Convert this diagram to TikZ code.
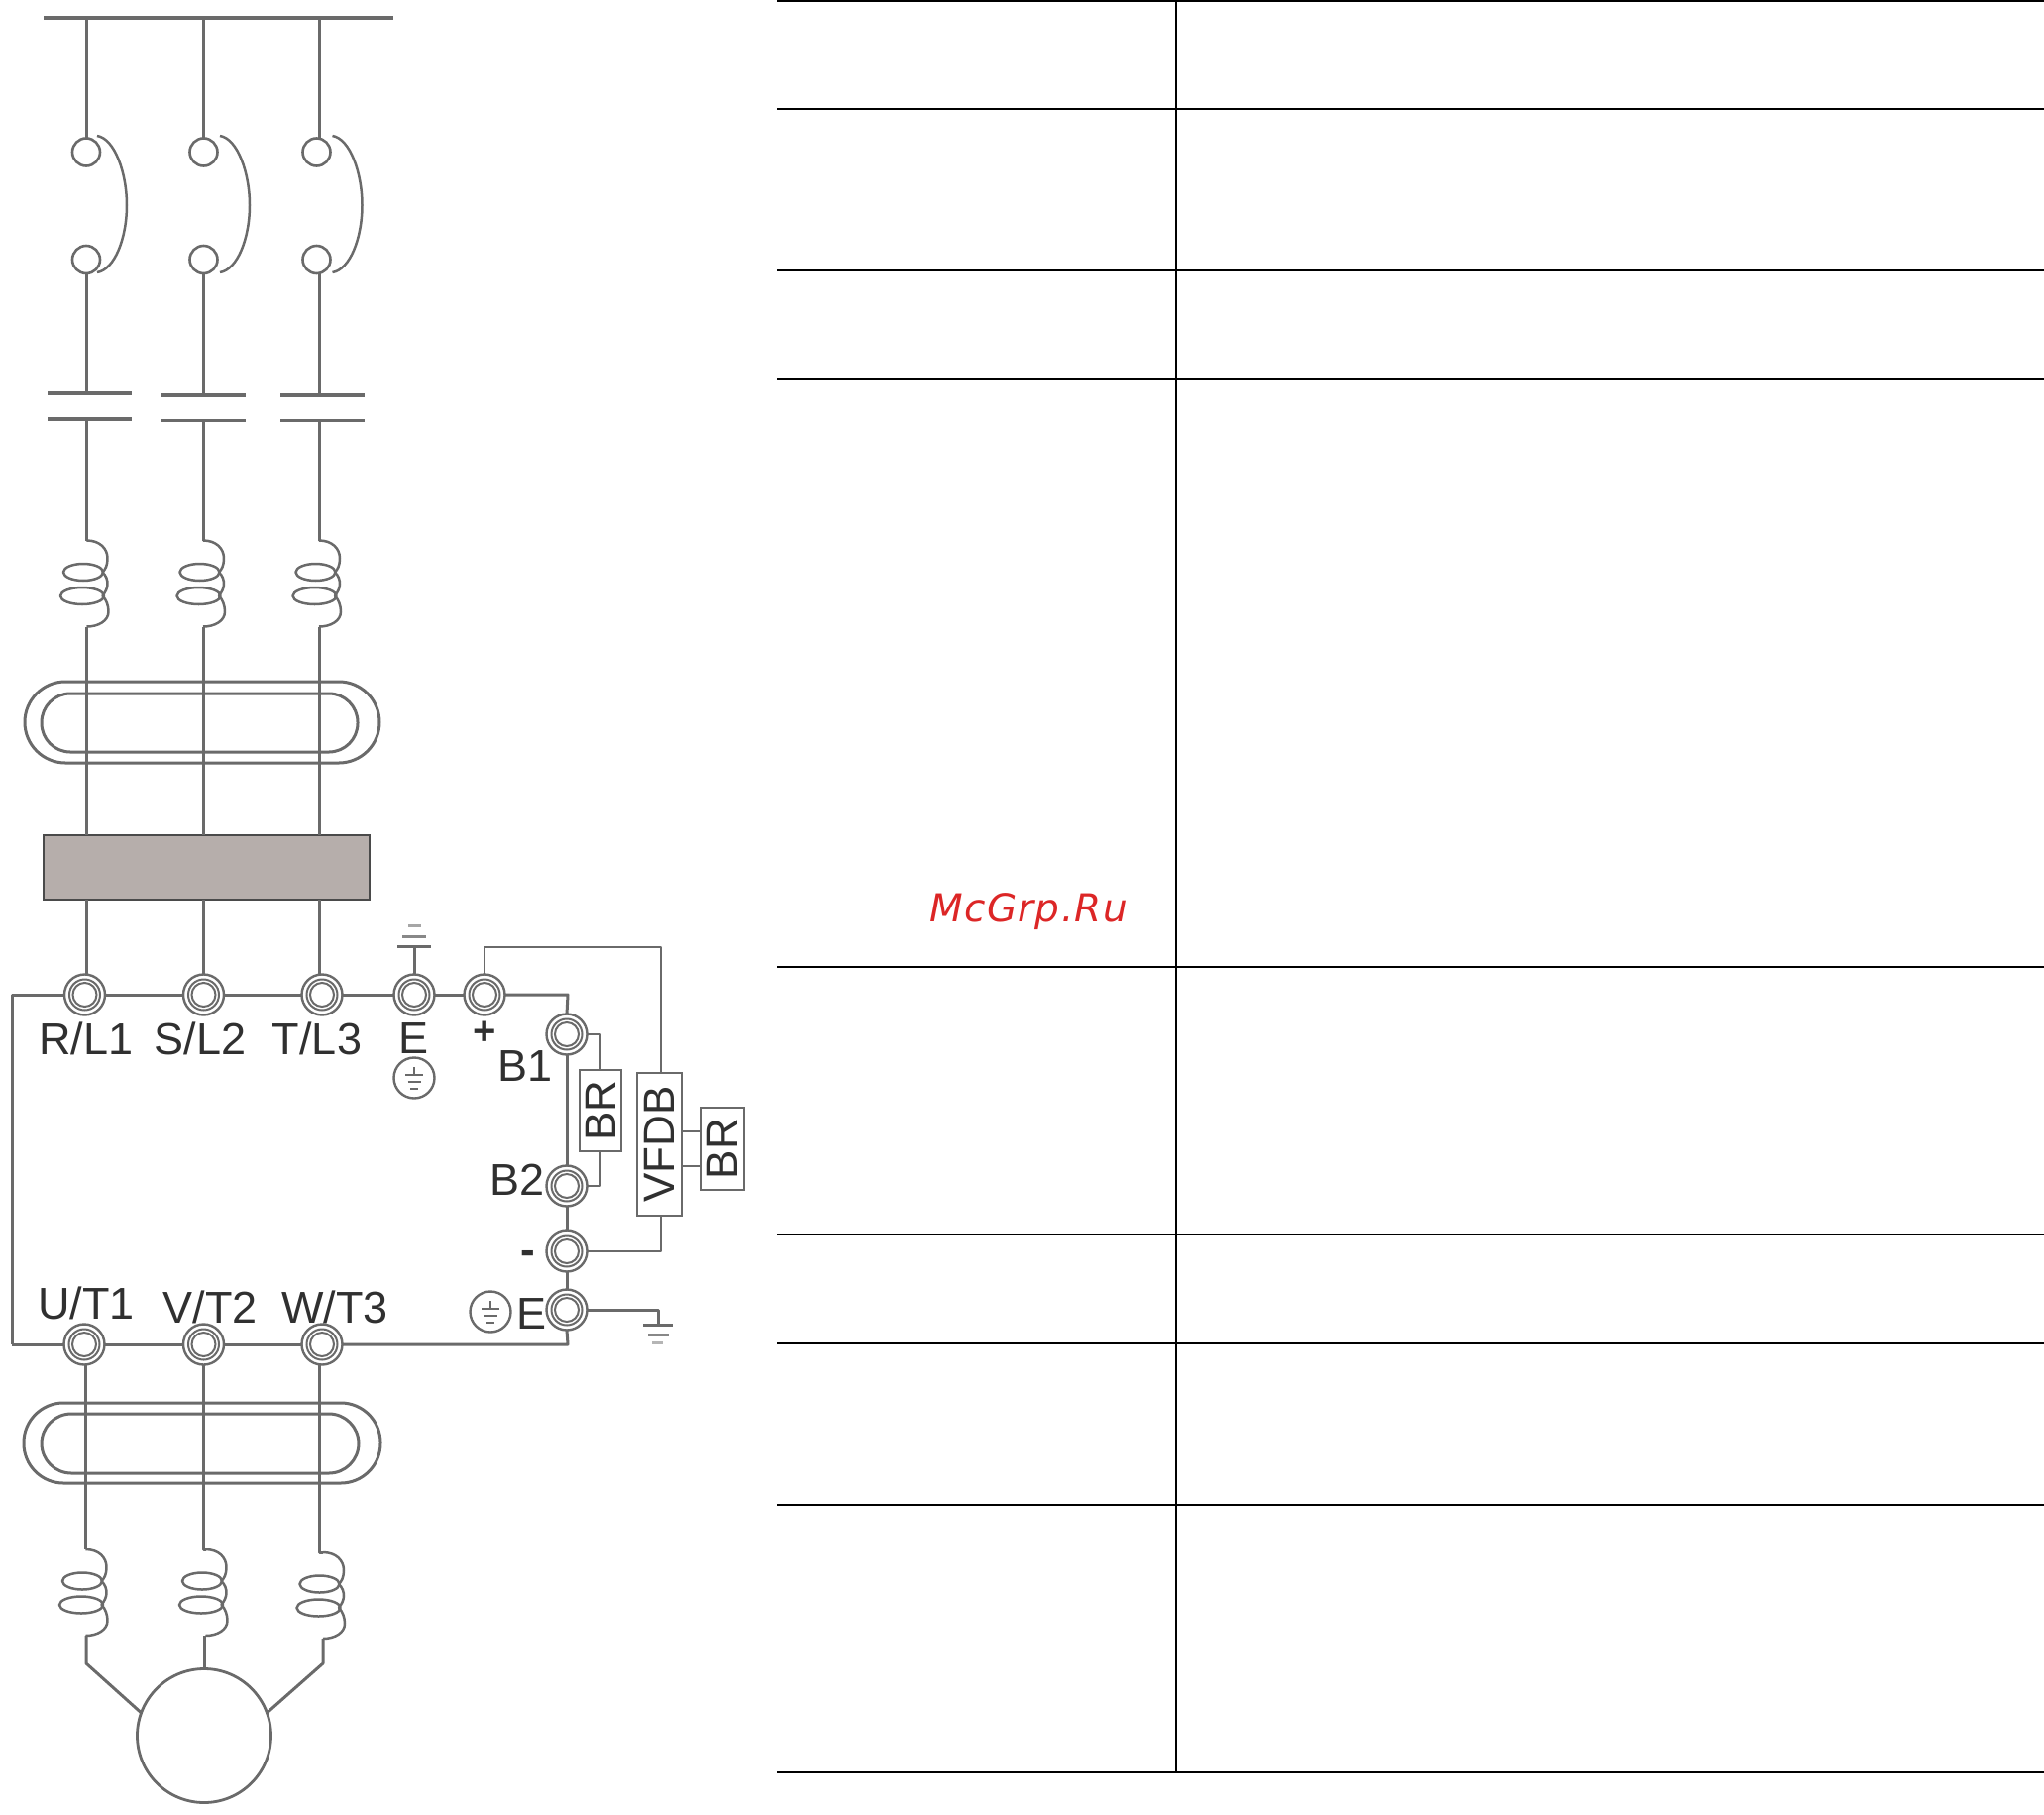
\documentclass[tikz,border=0pt]{standalone}
\usepackage{graphicx}
\usepackage{fontspec}
\setmainfont{Liberation Sans}
\newfontfamily\wmfont[LetterSpace=3.5]{DejaVu Sans}
\definecolor{wirec}{HTML}{6A6A6A}
\definecolor{inkc}{HTML}{303030}
\definecolor{fillc}{HTML}{B6AEAB}
\definecolor{redmark}{HTML}{DC2626}
\tikzset{
  wire/.style={draw=wirec,line width=3pt,line join=round},
  thinwire/.style={draw=wirec,line width=2.5pt,line join=round},
  tablerule/.style={draw=black,line width=2pt},
  hairrule/.style={draw=black,line width=1pt},
  swnode/.style={circle,draw=wirec,line width=2.6pt,fill=white,minimum size=28pt,inner sep=0pt,outer sep=0pt},
  termnode/.style={circle,draw=wirec,line width=2.4pt,fill=white,minimum size=41pt,inner sep=0pt,outer sep=0pt},
  lab/.style={font=\fontsize{45}{48}\selectfont,text=inkc,inner sep=0pt,outer sep=0pt},
  boxnode/.style={draw=wirec,line width=2.6pt,fill=white,inner sep=0pt,outer sep=0pt,font=\fontsize{44}{46}\selectfont,text=inkc},
  earthc/.style={circle,draw=wirec,line width=2.4pt,fill=white,minimum size=41pt,inner sep=0pt,outer sep=0pt},
  coil/.pic={
    \draw[thinwire] (0,0) .. controls (13,0) and (21,8) .. (21,18)
      .. controls (21,25) and (19,29) .. (16,32)
      .. controls (20,36) and (21,40) .. (21,44)
      .. controls (21,48) and (19,52) .. (16,56)
      .. controls (20,60) and (22,66) .. (22,72)
      .. controls (22,81) and (12,87) .. (0,87);
    \draw[thinwire] (-3.5,32) ellipse [x radius=20pt,y radius=8.5pt];
    \draw[thinwire] (-4.5,56) ellipse [x radius=22pt,y radius=8.5pt];
  },
  bow/.pic={
    \draw[thinwire] (0,0) .. controls (18,3) and (30,38) .. (30,70)
      .. controls (30,103) and (18,135) .. (0,138);
  },
  earthmark/.pic={
    \draw[draw=wirec,line width=2.2pt] (0,-11) -- (0,-3) (-9,-3) -- (9,-3);
    \draw[draw=wirec,line width=2.8pt] (-6.5,4) -- (6.5,4) (-4,11) -- (4,11);
  }
}
\newcommand{\termat}[3]{%
  \node[termnode] (#1) at (#2,#3) {};
  \draw[draw=wirec,line width=2pt,fill=white] (#1.center) circle (15.5pt);
  \draw[draw=wirec,line width=2pt,fill=white] (#1.center) circle (12pt);
}
\begin{document}
\begin{tikzpicture}[x=1pt,y=-1pt]
\useasboundingbox (0,0) rectangle (2063,1831);

% table rules
\draw[tablerule] (784,1) -- (2063,1);
\draw[tablerule] (784,109.5) -- (2063,109.5);
\draw[tablerule] (784,272.5) -- (2063,272.5);
\draw[tablerule] (784,383) -- (2063,383);
\draw[tablerule] (784,975.5) -- (2063,975.5);
\draw[hairrule] (784,1246) -- (2063,1246);
\draw[tablerule] (784,1356) -- (2063,1356);
\draw[tablerule] (784,1519) -- (2063,1519);
\draw[tablerule] (784,1788.5) -- (2063,1788.5);
\draw[tablerule] (1187,0) -- (1187,1789);
\node[anchor=base west,inner sep=0pt,text=redmark,font=\wmfont\itshape\fontsize{39}{42}\selectfont] (mark) at (938,930) {McGrp.Ru};

% supply bus
\coordinate (busL) at (44,18);
\coordinate (busR) at (397,18);
\draw[draw=wirec,line width=4pt] (busL) -- (busR);

% filter block and terminals
\node[draw=wirec!70!black,line width=2.4pt,fill=fillc,minimum width=329pt,minimum height=65pt,inner sep=0pt,outer sep=0pt] (filter) at (208.5,875.5) {};

\termat{RL}{85.5}{1004}
\termat{SL}{205.5}{1004}
\termat{TL}{325}{1004}
\termat{EA}{418}{1004}
\termat{PL}{489}{1004}
\termat{BA}{572}{1044}
\termat{BB}{572}{1197}
\termat{MN}{572}{1263}
\termat{EB}{572}{1322}
\termat{UT}{85}{1357}
\termat{VT}{205.5}{1357}
\termat{WT}{325}{1357}

% input phases
\foreach \n/\x/\c/\l/\r/\ya/\yb/\t/\bo in {1/87.5/87/48/133/397/423/RL/11,2/205/205.5/163/248/399/424.5/SL/16.5,3/322/319.5/283/368/399/424.5/TL/16}{
  \coordinate (bus\n) at (\x,18);
  \node[swnode] (swa\n) at (\c,153.5) {};
  \node[swnode] (swb\n) at (\c,262) {};
  \pic at ([xshift=\bo pt,yshift=16.5pt]swa\n.center) {bow};
  \coordinate (capaL\n) at (\l,\ya); \coordinate (capaR\n) at (\r,\ya);
  \coordinate (capbL\n) at (\l,\yb); \coordinate (capbR\n) at (\r,\yb);
  \draw[draw=wirec,line width=3.2pt] (capaL\n) -- (capaR\n);
  \draw[draw=wirec,line width=3.2pt] (capbL\n) -- (capbR\n);
  \coordinate (cta\n) at (\x,545.5);
  \coordinate (ctb\n) at (\x,632.5);
  \draw[wire] (bus\n) -- (bus\n |- swa\n.north);
  \draw[wire] (bus\n |- swb\n.south) -- (\x,\ya);
  \draw[wire] (\x,\yb) -- (cta\n);
  \pic at (cta\n) {coil};
  \draw[wire] (ctb\n) -- (ctb\n |- filter.north);
  \draw[wire] (ctb\n |- filter.south) -- (ctb\n |- \t.north);
}

% input choke ring
\draw[wire,rounded corners=41pt] (25,688) rectangle (383,770);
\draw[wire,rounded corners=29pt] (42,700) rectangle (361,759);

% drive frame
\coordinate (fTL) at (12,1004);
\coordinate (fTR) at (573,1004);
\coordinate (fBR) at (573,1357);
\coordinate (fBL) at (12,1357);
\draw[wire] (fBL) -- (fTL) -- (RL.west);
\draw[wire] (RL.east) -- (SL.west);
\draw[wire] (SL.east) -- (TL.west);
\draw[wire] (TL.east) -- (EA.west);
\draw[wire] (EA.east) -- (PL.west);
\draw[wire] (PL.east) -- (fTR) -- (BA.north);
\draw[wire] (BA.south) -- (BB.north);
\draw[wire] (BB.south) -- (MN.north);
\draw[wire] (MN.south) -- (EB.north);
\draw[wire] (EB.south) -- (fBR) -- (WT.east);
\draw[wire] (WT.west) -- (VT.east);
\draw[wire] (VT.west) -- (UT.east);
\draw[wire] (UT.west) -- (fBL);

% top ground
\coordinate (gt) at (418,955);
\draw[wire] (EA.north) -- (gt);
\draw[draw=wirec,line width=3pt] ([xshift=-17pt]gt) -- ([xshift=17pt]gt);
\draw[draw=wirec!80,line width=3pt] (406,945) -- (430,945);
\draw[draw=wirec!60,line width=3pt] (412,934) -- (425,934);

% right ground
\coordinate (gr) at (664,1337);
\draw[wire] (EB.east) -| (gr);
\draw[draw=wirec,line width=3pt] ([xshift=-15pt]gr) -- ([xshift=15pt]gr);
\draw[draw=wirec!80,line width=3pt] (654,1347) -- (675,1347);
\draw[draw=wirec!50,line width=3pt] (658,1355) -- (669,1355);

% braking units
\node[boxnode,minimum width=42pt,minimum height=82pt] (br1) at (606,1121) {\rotatebox{90}{BR}};
\node[boxnode,minimum width=45pt,minimum height=144pt] (vf) at (665.5,1155) {\rotatebox{90}{VFDB}};
\node[boxnode,minimum width=43pt,minimum height=83pt] (br2) at (729.5,1159.5) {\rotatebox{90}{BR}};
\draw[thinwire] (BA.east) -| (br1.north);
\draw[thinwire] (br1.south) |- (BB.east);
\coordinate (vt) at (667,956);
\draw[thinwire] (PL.north) |- (vt) -- (vt |- vf.north);
\draw[thinwire] (vt |- vf.south) |- (MN.east);
\coordinate (va) at (vf.east |- 0,1142);
\coordinate (vb) at (vf.east |- 0,1177);
\draw[thinwire] (va) -- (va -| br2.west);
\draw[thinwire] (vb) -- (vb -| br2.west);

% earth marks
\node[earthc] (ec1) at (418,1088) {};
\pic at (ec1.center) {earthmark};
\node[earthc] (ec2) at (495,1324) {};
\pic at (ec2.center) {earthmark};

% labels
\node[lab] (t1) at (87,1048) {R/L1};
\node[lab] (t2) at (202,1048) {S/L2};
\node[lab] (t3) at (320,1048) {T/L3};
\node[lab] (t4) at (418,1048) {E};
\node[lab,font=\fontsize{40}{42}\bfseries\selectfont] (t5) at (489,1043) {+};
\node[lab] (t6) at (530,1076) {B1};
\node[lab] (t7) at (522,1191) {B2};
\node[lab,font=\fontsize{44}{48}\bfseries\selectfont] (t8) at (533,1269) {-};
\node[lab] (t9) at (87,1315) {U/T1};
\node[lab] (t10) at (212,1319) {V/T2};
\node[lab] (t11) at (338,1319) {W/T3};
\node[lab] (t12) at (537,1326) {E};

% output phases
\node[circle,draw=wirec,line width=2.8pt,fill=white,minimum size=135pt,inner sep=0pt,outer sep=0pt] (motor) at (206,1752) {};
\foreach \n/\x/\cx/\cy/\bx/\t in {1/86.5/86.5/1564/87/UT,2/205.7/207.5/1564/206.5/VT,3/322.7/326/1567/326/WT}{
  \coordinate (oct\n) at (\cx,\cy);
  \coordinate (ocb\n) at (\bx,\cy+87);
  \draw[wire] (\x,1377.5) -- (\x,\cy) -- (oct\n);
  \pic at (oct\n) {coil};
}
\draw[wire,rounded corners=40pt] (24,1416) rectangle (384,1497);
\draw[wire,rounded corners=30pt] (42,1427) rectangle (362,1487);

\coordinate (mL) at (87,1679);
\coordinate (mR) at (326,1679);
\draw[wire] (ocb1) -- (mL) -- (motor.160);
\draw[wire] (ocb2) -- (ocb2 |- motor.north);
\draw[wire] (ocb3) -- (mR) -- (motor.20);
\end{tikzpicture}
\end{document}
